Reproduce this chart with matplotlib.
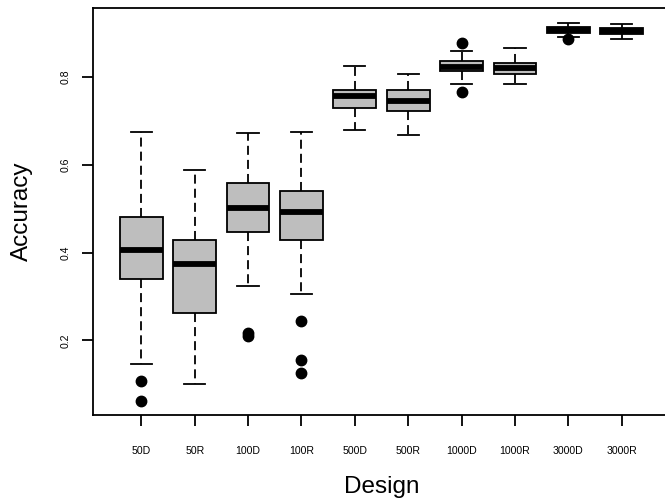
import matplotlib
matplotlib.use("Agg")
import matplotlib.pyplot as plt

plt.rcParams['font.family'] = ['Liberation Sans', 'DejaVu Sans']

designs = ["50D", "50R", "100D", "100R", "500D", "500R", "1000D", "1000R", "3000D", "3000R"]
whis_lo = [0.147, 0.100, 0.324, 0.306, 0.679, 0.668, 0.785, 0.783, 0.892, 0.886]
q1 = [0.340, 0.262, 0.446, 0.429, 0.729, 0.723, 0.814, 0.807, 0.901, 0.898]
medians = [0.405, 0.374, 0.502, 0.492, 0.757, 0.746, 0.823, 0.820, 0.908, 0.905]
q3 = [0.480, 0.428, 0.558, 0.540, 0.770, 0.770, 0.836, 0.833, 0.913, 0.911]
whis_hi = [0.674, 0.589, 0.672, 0.674, 0.826, 0.808, 0.859, 0.866, 0.922, 0.920]
outliers = [[0.107, 0.062], [], [0.217, 0.210], [0.243, 0.154, 0.125],
            [], [], [0.878, 0.767], [], [0.887], []]

stats = []
for i in range(len(designs)):
    stats.append(dict(label=designs[i], whislo=whis_lo[i], q1=q1[i], med=medians[i],
                      q3=q3[i], whishi=whis_hi[i], fliers=outliers[i]))

fig = plt.figure(figsize=(6.65, 5.01), dpi=100)
ax = fig.add_axes([93.3 / 665, (501 - 415) / 501, (669.7 - 93.3) / 665, (415 - 8.3) / 501])

ax.bxp(stats, widths=0.8, patch_artist=True, showfliers=True, capwidths=0.4,
       boxprops=dict(facecolor="#BEBEBE", edgecolor="black", linewidth=1.3),
       medianprops=dict(color="black", linewidth=4.2, solid_capstyle="butt"),
       whiskerprops=dict(color="black", linewidth=1.3, linestyle=(0, (5, 2.8))),
       capprops=dict(color="black", linewidth=1.3),
       flierprops=dict(marker="o", markerfacecolor="black", markeredgecolor="black",
                       markersize=7.5))

ax.set_xlim(0.1, 10.9)
ax.set_ylim(0.0298, 0.9566)
ax.set_yticks([0.2, 0.4, 0.6, 0.8])
ax.set_yticklabels(["0.2", "0.4", "0.6", "0.8"], rotation=90, va="center")
ax.tick_params(axis="both", labelsize=7.6, width=1.3, length=8, direction="out")
ax.tick_params(axis="x", pad=14)
ax.tick_params(axis="y", pad=8)
for s in ax.spines.values():
    s.set_linewidth(1.3)

ax.set_xlabel("Design", fontsize=17.5)
ax.set_ylabel("Accuracy", fontsize=17.5)
ax.xaxis.set_label_coords(0.5, -0.150)
ax.yaxis.set_label_coords(-0.105, 0.5)

fig.savefig("out.png", dpi=100)
